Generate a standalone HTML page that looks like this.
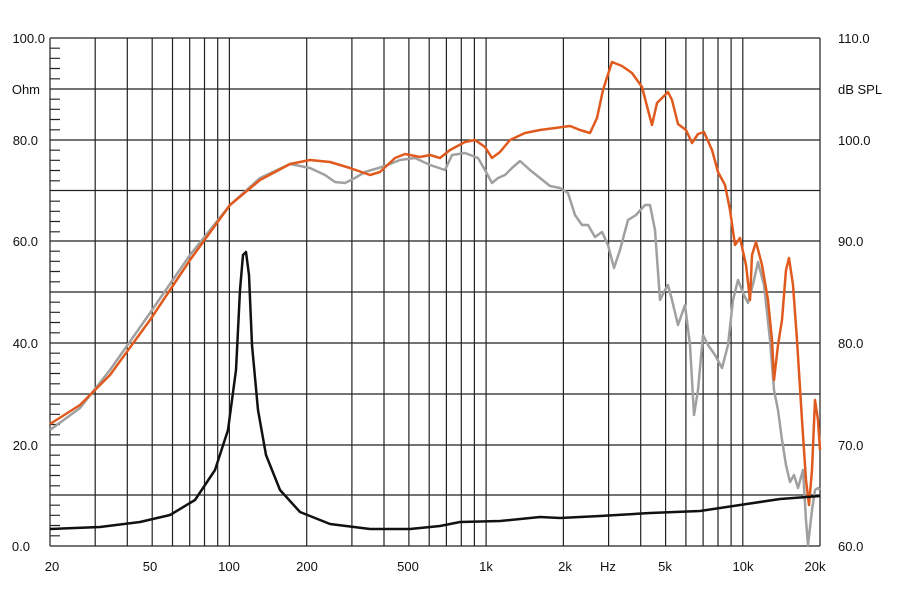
<!DOCTYPE html>
<html><head><meta charset="utf-8"><style>body{margin:0;background:#fff}svg{display:block}text{font-family:"Liberation Sans",sans-serif;font-size:13px;fill:#111}</style></head><body>
<svg width="897" height="603" viewBox="0 0 897 603" xmlns="http://www.w3.org/2000/svg">
<g stroke="#222" stroke-width="1.2" fill="none">
<path d="M50,38H820M50,89H820M50,140H820M50,190.5H820M50,241H820M50,292H820M50,343H820M50,394H820M50,445H820M50,495H820M50,546H820"/>
<path d="M50,38V546M95.2,38V546M127.3,38V546M152.2,38V546M172.5,38V546M189.7,38V546M204.5,38V546M217.7,38V546M229.4,38V546M306.7,38V546M351.9,38V546M384,38V546M408.9,38V546M429.2,38V546M446.4,38V546M461.3,38V546M474.4,38V546M486.1,38V546M563.4,38V546M608.6,38V546M640.7,38V546M665.6,38V546M685.9,38V546M703.1,38V546M718,38V546M731.1,38V546M742.8,38V546M820,38V546"/>
<path d="M50,48.2h10M50,58.3h10M50,68.5h10M50,78.8h10M50,99.2h10M50,109.3h10M50,119.5h10M50,129.8h10M50,150.2h10M50,160.3h10M50,170.5h10M50,180.8h10M50,201.2h10M50,211.3h10M50,221.5h10M50,231.8h10M50,251.2h10M50,261.3h10M50,271.5h10M50,281.8h10M50,302.2h10M50,312.3h10M50,322.5h10M50,332.8h10M50,353.2h10M50,363.3h10M50,373.5h10M50,383.8h10M50,404.2h10M50,414.3h10M50,424.5h10M50,434.8h10M50,455.2h10M50,465.3h10M50,475.5h10M50,485.8h10M50,505.2h10M50,515.3h10M50,525.5h10M50,535.8h10"/>
</g>
<polyline fill="none" stroke="#a0a0a0" stroke-width="2.5" stroke-linejoin="round" points="50,430 80,408 110,370 150,313 190,255 230,205 260,178 290,164 310,168 325,175 335,182 345,183 355,178 365,172 385,166 400,160 415,158 430,165 445,170 452,155 465,153 478,158 485,170 492,183 498,178 505,175 512,168 520,161 530,170 540,178 550,186 560,188 568,193 575,215 582,225 588,225 595,237 602,232 608,245 614,268 620,250 628,220 636,215 645,205 650,205 655,230 660,300 665,290 668,285 672,300 678,325 685,305 690,345 694,415 698,390 703,335 708,345 715,355 722,368 728,345 733,300 738,280 744,295 748,303 754,280 758,262 764,285 770,340 774,390 778,410 782,440 786,465 790,482 794,475 798,488 803,470 806,520 808,545 812,510 815,490 818,488 820,490"/>
<polyline fill="none" stroke="#e05a1e" stroke-width="2.5" stroke-linejoin="round" points="50,424 80,405 110,375 150,320 190,260 230,205 260,180 290,164 310,160 330,162 350,168 370,175 380,172 395,158 405,154 420,157 430,155 440,158 450,150 465,142 475,140 485,147 492,158 500,152 510,140 525,133 540,130 555,128 570,126 580,130 590,133 597,118 603,90 612,62 622,66 632,73 642,87 648,110 652,125 657,103 663,97 668,92 672,100 678,124 686,130 692,143 698,134 704,132 712,150 718,172 725,185 730,210 735,245 740,238 746,265 750,300 752,255 756,242 762,265 768,300 772,340 774,380 778,345 782,320 786,270 789,258 793,285 797,340 802,420 806,480 809,505 812,470 815,400 818,420 820,450"/>
<polyline fill="none" stroke="#111" stroke-width="2.5" stroke-linejoin="round" points="50,529 100,527 140,522 170,515 195,500 215,470 228,430 236,370 240,290 243,255 246,252 249,275 252,345 258,410 266,455 280,490 300,512 330,524 370,529 410,529 440,526 460,522 500,521 540,517 560,518 600,516 650,513 700,511 740,505 780,499 820,496"/>
<g text-anchor="end">
<text x="45" y="43">100.0</text><text x="40" y="94">Ohm</text><text x="38" y="145">80.0</text><text x="38" y="246">60.0</text><text x="38" y="348">40.0</text><text x="38" y="450">20.0</text><text x="30" y="551">0.0</text>
</g>
<g>
<text x="838" y="43">110.0</text><text x="838" y="94">dB SPL</text><text x="838" y="145">100.0</text><text x="838" y="246">90.0</text><text x="838" y="348">80.0</text><text x="838" y="450">70.0</text><text x="838" y="551">60.0</text>
</g>
<g text-anchor="middle">
<text x="52" y="571">20</text><text x="150" y="571">50</text><text x="229" y="571">100</text><text x="307" y="571">200</text><text x="408" y="571">500</text><text x="486" y="571">1k</text><text x="565" y="571">2k</text><text x="608" y="571">Hz</text><text x="665" y="571">5k</text><text x="743" y="571">10k</text><text x="815" y="571">20k</text>
</g>
</svg>
</body></html>
